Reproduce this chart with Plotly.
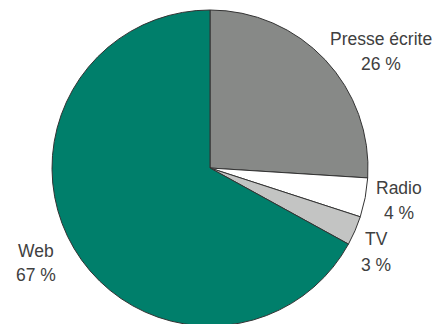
import plotly.graph_objects as go

labels = ["Presse écrite", "Radio", "TV", "Web"]
values = [26, 4, 3, 67]
colors = ["#878987", "#ffffff", "#c3c4c3", "#007f6b"]
# label centres in screen pixels: x, y of name line, y of value line
label_x = [381, 398.5, 376, 36]
name_y = [39, 188, 239, 250.5]
value_y = [64, 213, 265, 275]

W, H = 443, 324
OFF = 8  # page body margin
ML, MR, MT, MB = 0, 0, 2, 6

fig = go.Figure(go.Pie(
    labels=labels, values=values, sort=False, direction="clockwise", rotation=0,
    marker=dict(colors=colors, line=dict(color="#333333", width=1)),
    textinfo="none", hoverinfo="none", showlegend=False,
    domain=dict(x=[0, 404 / 443], y=[0, 1]),
))

pw, ph = W - ML - MR, H - MT - MB


def px(x):
    return (x - OFF - ML) / pw


def py(y):
    return (H - MB - (y - OFF)) / ph


font = dict(family="Liberation Sans, Arial", size=17.5, color="#404040")
ann = []
for lab, v, x, ny, vy in zip(labels, values, label_x, name_y, value_y):
    for txt, y in ((lab, ny), (f"{v} %", vy)):
        ann.append(dict(
            text=txt, x=px(x), y=py(y), xref="paper", yref="paper",
            showarrow=False, font=font,
            xanchor="center", yanchor="middle", align="center",
        ))

fig.update_layout(
    width=W, height=H, margin=dict(l=ML, r=MR, t=MT, b=MB),
    paper_bgcolor="white", plot_bgcolor="white", annotations=ann,
)
fig.write_html("out.html")
